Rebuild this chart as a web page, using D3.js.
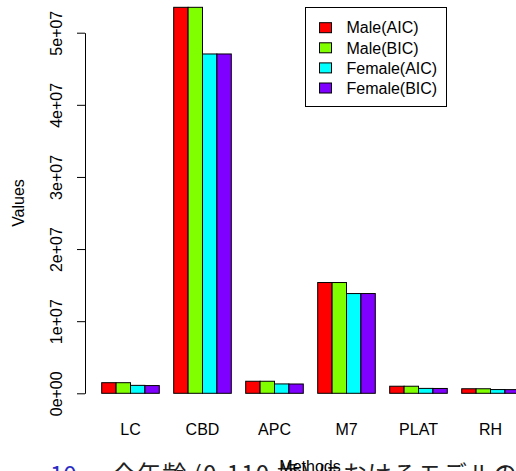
<!DOCTYPE html>
<html>
<head>
<meta charset="utf-8">
<script src="https://cdn.jsdelivr.net/npm/d3@7"></script>
<style>
  html, body { margin: 0; padding: 0; background: #fff; overflow: hidden; }
  svg { display: block; }
  text { font-family: "Liberation Sans", Arial, sans-serif; }
</style>
</head>
<body>
<svg id="chart" width="516" height="471"></svg>
<script>
// Model sizes by method, one array per series
const categories = ["LC", "CBD", "APC", "M7", "PLAT", "RH"];
const seriesNames = ["Male(AIC)", "Male(BIC)", "Female(AIC)", "Female(BIC)"];
const maleAIC   = [1.47e6, 5.352e7, 1.67e6, 1.536e7, 0.98e6, 0.63e6];
const maleBIC   = [1.47e6, 5.352e7, 1.67e6, 1.536e7, 0.98e6, 0.63e6];
const femaleAIC = [1.10e6, 4.705e7, 1.30e6, 1.383e7, 0.68e6, 0.52e6];
const femaleBIC = [1.07e6, 4.705e7, 1.29e6, 1.383e7, 0.67e6, 0.51e6];
const seriesColors = ["#FF0000", "#80FF00", "#00FFFF", "#8000FF"];
const yTickValues = [0, 1e7, 2e7, 3e7, 4e7, 5e7];
const yTickLabels = ["0e+00", "1e+07", "2e+07", "3e+07", "4e+07", "5e+07"];
const captionNumber = "10";
const captionText = "全年齢 (0-110 歳) におけるモデルの";

const seriesValues = [maleAIC, maleBIC, femaleAIC, femaleBIC];
const svg = d3.select("#chart");

const x0 = d3.scaleBand()
  .domain(categories)
  .range([94.5, 526.5])
  .paddingInner(0.2)
  .paddingOuter(0.1);

const x1 = d3.scaleBand()
  .domain(seriesNames)
  .range([0, x0.bandwidth()]);

const y = d3.scaleLinear()
  .domain([0, 5e7])
  .range([393.3, 32.7]);

// grouped bars
const groups = svg.append("g").selectAll("g")
  .data(categories)
  .join("g")
  .attr("transform", d => `translate(${x0(d)},0)`);

groups.selectAll("rect")
  .data((c, ci) => seriesNames.map((s, si) => ({ s, si, v: seriesValues[si][ci] })))
  .join("rect")
  .attr("x", d => x1(d.s))
  .attr("y", d => y(d.v))
  .attr("width", x1.bandwidth())
  .attr("height", d => y(0) - y(d.v))
  .attr("fill", d => seriesColors[d.si])
  .attr("stroke", "#000")
  .attr("stroke-width", 1);

// y axis
const yAxis = svg.append("g")
  .attr("transform", "translate(85,0)")
  .call(d3.axisLeft(y)
    .tickValues(yTickValues)
    .tickFormat((d, i) => yTickLabels[i])
    .tickSize(8)
    .tickSizeOuter(0));
yAxis.selectAll("path, line").attr("stroke", "#000");
yAxis.selectAll("text")
  .attr("x", 0)
  .attr("y", -23.5)
  .attr("dy", 0)
  .attr("text-anchor", "middle")
  .attr("transform", "rotate(-90)")
  .attr("fill", "#000")
  .style("font-family", "'Liberation Sans', Arial, sans-serif")
  .style("font-size", "16px");

// category labels
svg.append("g").selectAll("text")
  .data(categories)
  .join("text")
  .attr("x", d => x0(d) + x0.bandwidth() / 2)
  .attr("y", 434.5)
  .attr("text-anchor", "middle")
  .style("font-size", "16px")
  .text(d => d);

// axis titles
svg.append("text")
  .attr("transform", "translate(24,203) rotate(-90)")
  .attr("text-anchor", "middle")
  .style("font-size", "16px")
  .text("Values");

// caption line running underneath
svg.append("text")
  .attr("x", 50)
  .attr("y", 483)
  .attr("fill", "#2b2bc4")
  .style("font-family", "'Noto Sans CJK JP', sans-serif")
  .style("font-size", "24px")
  .text(captionNumber);
svg.append("text")
  .attr("x", 112)
  .attr("y", 483)
  .attr("fill", "#222")
  .attr("textLength", 405)
  .attr("lengthAdjust", "spacing")
  .style("font-family", "'Noto Sans CJK JP', sans-serif")
  .style("font-size", "24px")
  .text(captionText);

svg.append("text")
  .attr("x", 310)
  .attr("y", 471.5)
  .attr("text-anchor", "middle")
  .style("font-size", "16px")
  .text("Methods");

// legend
const legend = svg.append("g");
legend.append("rect")
  .attr("x", 305.5).attr("y", 7.5)
  .attr("width", 141).attr("height", 99)
  .attr("fill", "#fff")
  .attr("stroke", "#000");
const rows = legend.selectAll("g.row")
  .data(seriesNames)
  .join("g")
  .attr("class", "row")
  .attr("transform", (d, i) => `translate(0,${27.7 + i * 20.1})`);
rows.append("rect")
  .attr("x", 319.5).attr("y", -5)
  .attr("width", 12).attr("height", 10)
  .attr("fill", (d, i) => seriesColors[i])
  .attr("stroke", "#000");
rows.append("text")
  .attr("x", 346.5)
  .attr("y", 5.7)
  .style("font-size", "16px")
  .text(d => d);
</script>
</body>
</html>
